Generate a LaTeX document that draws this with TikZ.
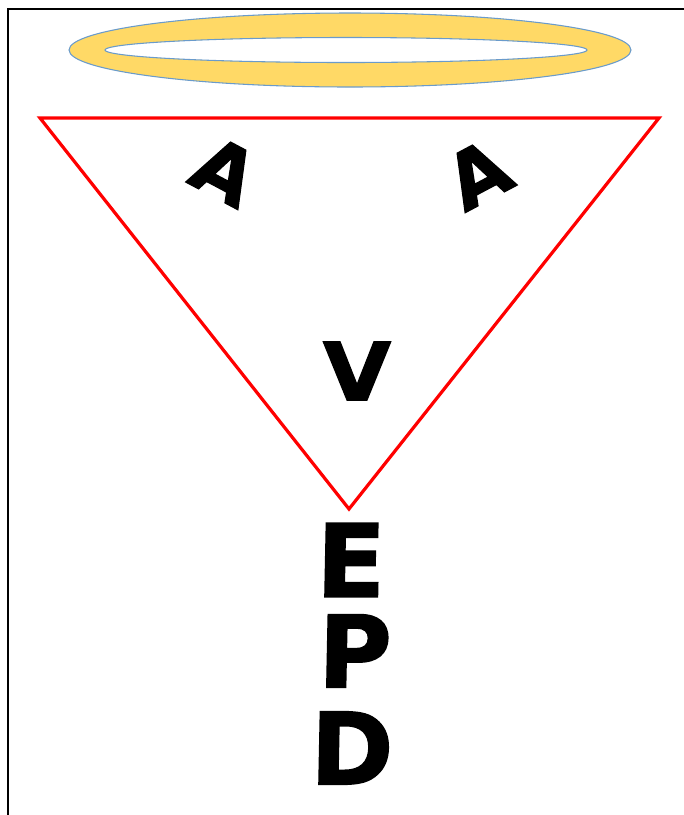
\documentclass[tikz,border=0pt]{standalone}
\usepackage{fontspec}
\newfontfamily\heavy{DejaVu Sans}[BoldFeatures={FakeBold=1.5}]
\definecolor{halofill}{HTML}{FFD966}
\definecolor{haloline}{HTML}{6A9BCB}
\definecolor{tri}{HTML}{FF0000}
\tikzset{
  letter/.style={inner sep=0pt, font=\heavy\bfseries\fontsize{#1}{#1}\selectfont, text=black},
  halo/.style={fill=halofill, draw=haloline, line width=0.8pt, even odd rule},
}
\begin{document}
\begin{tikzpicture}[x=0.75pt,y=-0.75pt]
\useasboundingbox (0,0) rectangle (684,815);
% frame (left and top)
\draw[line width=1.2pt] (8,815) -- (8,9) -- (684,9);
% halo ring
\path[halo] (350,50) ellipse [x radius=281, y radius=37]
            (346,50) ellipse [x radius=241, y radius=12.5];
% triangle
\coordinate (tl) at (40,118);
\coordinate (tr) at (659,118);
\coordinate (bt) at (349,509);
\draw[tri, line width=2.4pt, line join=miter] (tl) -- (tr) -- (bt) -- cycle;
% letters
\node[letter=58, rotate=-28] (a1) at (225,171) {A};
\node[letter=58, rotate=28] (a2) at (478,174) {A};
\node[letter=60, xscale=1.1] (v) at (357,371) {V};
\node[letter=76, xslant=0.02] (e) at (351,560) {E};
\node[letter=75, xslant=0.02] (p) at (355,651) {P};
\node[letter=75, xslant=0.02] (d) at (352,748) {D};
\end{tikzpicture}
\end{document}
